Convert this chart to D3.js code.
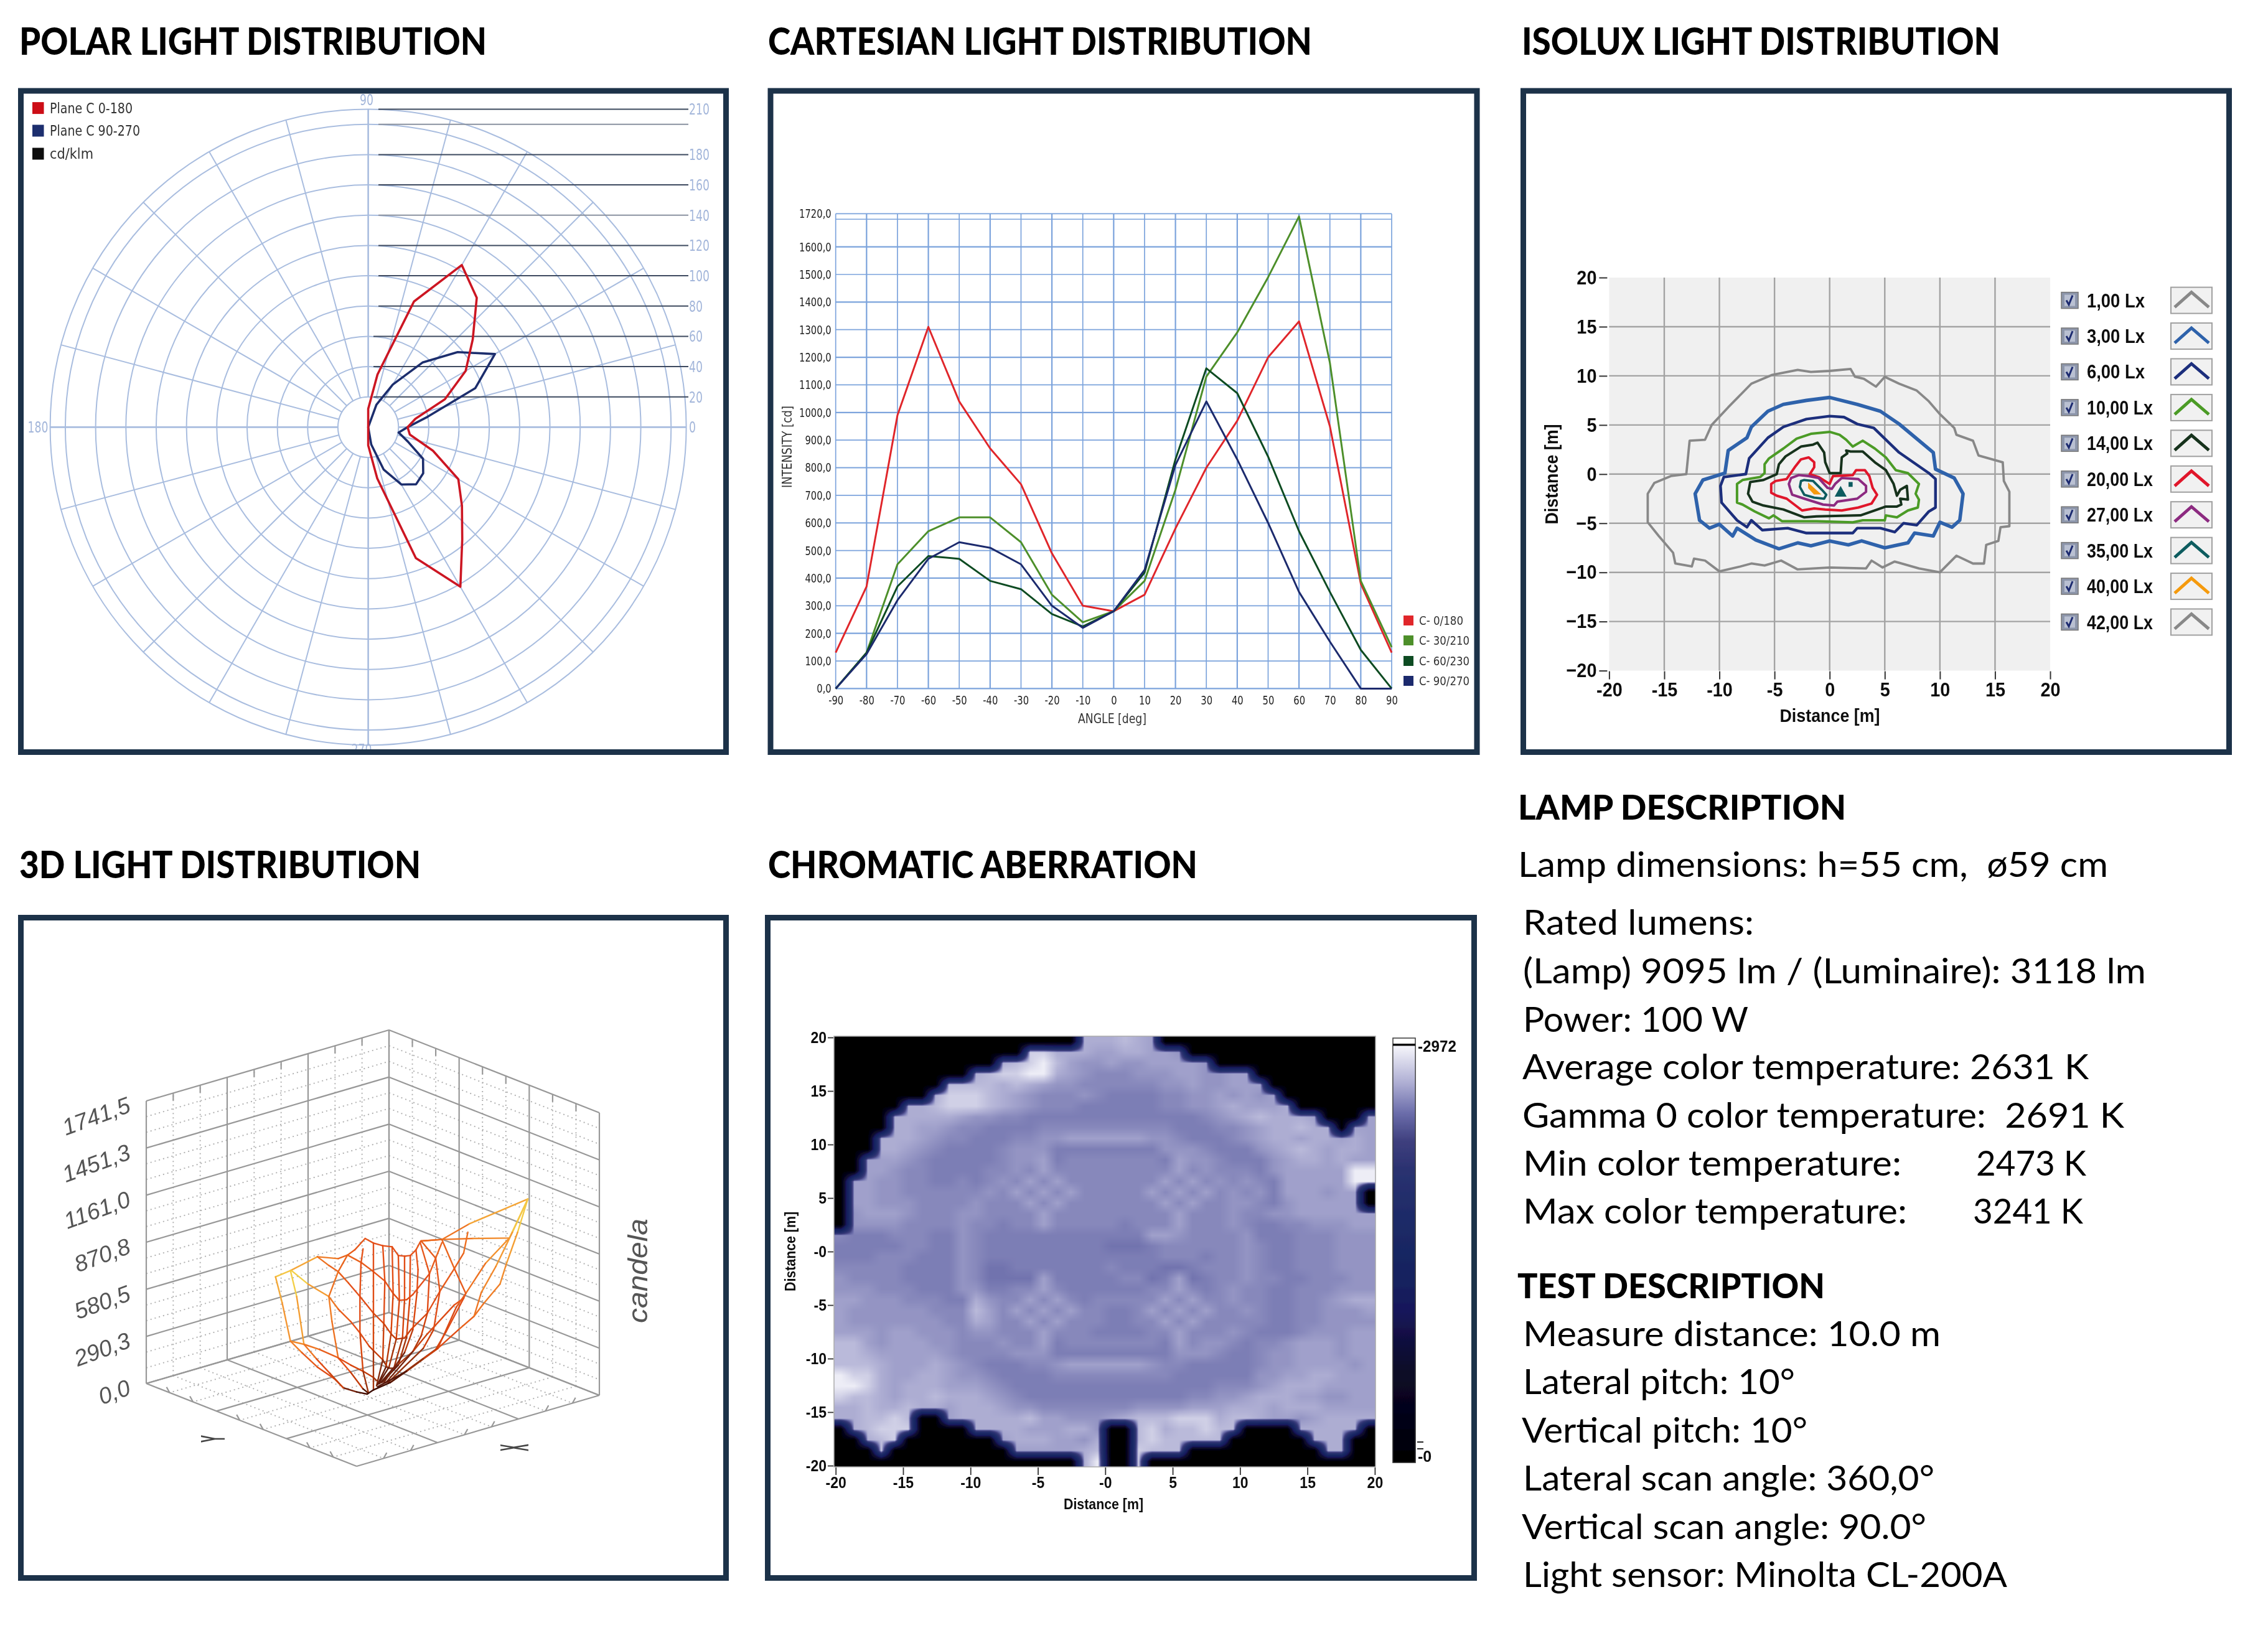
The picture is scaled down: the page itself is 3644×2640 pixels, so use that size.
<!DOCTYPE html>
<html><head><meta charset="utf-8">
<script src="https://cdn.jsdelivr.net/npm/d3@7/dist/d3.min.js"></script>
<style>html,body{margin:0;padding:0;background:#fff}svg{display:block}</style>
</head><body>
<svg id="c" width="3644" height="2640" xmlns="http://www.w3.org/2000/svg"></svg>
<script>
// ---------- DATA ----------
const angles=[-90,-80,-70,-60,-50,-40,-30,-20,-10,0,10,20,30,40,50,60,70,80,90];
const c0_180=[130,370,990,1310,1040,870,740,490,300,280,340,580,800,970,1200,1330,950,380,130];
const c30_210=[0,130,450,570,620,620,530,340,240,280,390,720,1130,1290,1490,1710,1180,390,150];
const c60_230=[0,130,370,480,470,390,360,270,225,280,420,830,1160,1070,840,570,350,140,0];
const c90_270=[0,125,320,470,530,510,450,300,220,280,430,810,1040,830,600,350,170,0,0];
const polarC0=[12,34.4,92,121.7,96.6,80.8,68.7,45.5,27.9,26,31.6,53.9,74.3,90.1,111.5,123.6,88.3,35.3,12.1];
const polarC90=[0,11.6,29.7,43.7,49.2,47.4,41.8,27.9,20.4,26,39.9,75.2,96.6,77.1,55.7,32.5,15.8,0,0];
const polarRings=[20,40,60,80,100,120,140,160,180,200,210];
const polarSpokes=d3.range(0,360,15);
const polarGuides=[20,40,60,80,100,120,140,160,180,200,210];
const polarGuideLabels=[0,20,40,60,80,100,120,140,160,180,210];
const polarLegend=["Plane C 0-180","Plane C 90-270","cd/klm"];
const cartYTicks=[0,100,200,300,400,500,600,700,800,900,1000,1100,1200,1300,1400,1500,1600,1720];
const cartYGrid=[0,100,200,300,400,500,600,700,800,900,1000,1100,1200,1300,1400,1500,1600,1700,1720];
const cartLegend=["C- 0/180","C- 30/210","C- 60/230","C- 90/270"];
const isoTicks=[-20,-15,-10,-5,0,5,10,15,20];
const isoLabels=["1,00 Lx","3,00 Lx","6,00 Lx","10,00 Lx","14,00 Lx","20,00 Lx","27,00 Lx","35,00 Lx","40,00 Lx","42,00 Lx"];
const iso1=[[0,10.5],[1.9,10.7],[2.3,9.9],[3.1,9.7],[4.2,8.9],[5,9.9],[6.3,9.2],[7.9,8.5],[9,7.4],[10,6.1],[11.3,4.7],[11.5,4],[13,3.4],[13.5,1.9],[15.7,1.2],[15.8,-.7],[16.3,-1.8],[16.3,-5.3],[15.5,-5.4],[15.3,-6.8],[14.2,-7.2],[14,-9.1],[13,-9.1],[11.5,-8.3],[10,-10],[8.1,-9.6],[5.9,-8.9],[4.8,-9.5],[3.8,-8.8],[3.3,-9.6],[0,-9.5],[-2.9,-9.7],[-4.4,-8.8],[-5.9,-9.3],[-7.1,-9.1],[-8.1,-9.4],[-10,-9.9],[-11.3,-8.8],[-12.3,-8.6],[-12.5,-9.4],[-14,-9.1],[-14.2,-8],[-15.5,-6.3],[-16.5,-4.9],[-16.5,-2],[-15.9,-.9],[-14.4,-.2],[-13,0],[-12.7,3.4],[-11.3,3.5],[-10.7,5],[-9.2,6.8],[-7.1,9.2],[-5.2,10.1],[-2.9,10.6],[-1.7,10.4]];
const iso3=[[0,7.8],[-2.1,7.5],[-4.2,7.1],[-5.6,6.4],[-7.1,4.8],[-7.5,3.7],[-9.2,2.4],[-9.5,.1],[-11.5,-.6],[-12.2,-2],[-11.8,-4.7],[-10.9,-5.5],[-10,-5.1],[-8.8,-6.3],[-8.4,-5.5],[-6.7,-6.7],[-4.6,-7.6],[-2.9,-7],[-1.7,-7.3],[0,-6.8],[1.7,-7.2],[2.9,-6.8],[5,-7.5],[7.1,-7],[7.7,-6],[9.4,-6.3],[10,-4.9],[11.1,-5.4],[11.8,-4.7],[12.1,-2],[11.3,-.4],[9.6,.5],[9.4,2.2],[6.3,5.1],[4.6,6.4],[2.5,7.1]];
const iso6=[[0,5.9],[-2.1,5.6],[-4.2,4.8],[-5.6,3.7],[-7.3,1.6],[-7.6,0],[-9.6,-.3],[-9.9,-1.2],[-9.8,-2.9],[-8.4,-4.7],[-7.5,-5.4],[-7.1,-4.7],[-6.1,-5.7],[-3.8,-5.5],[-2.1,-6],[2.1,-6],[2.5,-5.5],[4.6,-5.5],[5.9,-5.9],[6.7,-5],[7.9,-5.2],[9,-3.8],[9.6,-3.4],[9.6,-.5],[9,.1],[6.3,2.2],[4,4.7],[2.5,5.1],[1.3,5.8]];
const iso10=[[0,4.3],[.9,4],[1.5,3.5],[2.1,2.8],[3,3.4],[4.1,2.6],[5.1,1.7],[6,.4],[7.1,.1],[8.1,-1],[7.8,-2],[8.1,-2.6],[8,-3.4],[7.1,-3.7],[6.1,-4.4],[5.1,-4.2],[5,-4.7],[3,-4.7],[2.1,-4.9],[-1.2,-4.8],[-2.1,-4.8],[-4.3,-4.8],[-5.1,-4.2],[-5.5,-4.5],[-6.8,-3.8],[-7.9,-3.1],[-8.4,-2.9],[-8.4,-1],[-7.9,-.6],[-6.3,-.3],[-5.9,.1],[-5.9,1],[-5.5,1.6],[-4.2,2.6],[-3,3.6],[-1.7,4.1]];
const iso14=[[-1.1,3.2],[-.5,2.2],[-.4,1.2],[0,.1],[1,.1],[1.1,1.7],[1.6,2.1],[1.5,2.4],[1.9,2.3],[3,2.3],[4.1,1.2],[5.1,.4],[5.8,-1],[6.1,-2.2],[6.4,-1.6],[7,-1.2],[7.1,-2.6],[6.4,-2.5],[6.5,-3.1],[6.1,-3.3],[5.1,-3.3],[4.1,-3.7],[2.8,-4.2],[-1.2,-4.3],[-2.3,-4.4],[-4.2,-3.6],[-6,-3.2],[-7,-2.8],[-7.4,-2],[-7.2,-.8],[-6,-.6],[-4.8,0],[-4.6,1],[-4,1.8],[-2.6,2.8],[-1.5,3]];
const iso20=[[-1.9,1.7],[-1.4,1.2],[-1.4,.7],[-1.8,0],[-1,-.3],[0,-1],[.3,-.2],[2.1,-.1],[2.4,.4],[3.2,.4],[3.6,-.2],[3.9,-1.4],[4.3,-2.1],[3.8,-3],[2.6,-3.4],[1.1,-3.7],[-.4,-3.6],[-1.4,-3.5],[-2.5,-3.7],[-3.9,-2.5],[-4.8,-2.2],[-5.3,-1.9],[-5.3,-1],[-4.9,-.7],[-3.9,-.5],[-3.1,.8],[-2.6,1.5]];
const iso27=[[-2.8,-.1],[-1.9,-.2],[-1,-.4],[-.2,-1.4],[.2,-1.5],[.5,-1],[1.1,-.4],[2.6,-.5],[3.3,-1.2],[3.3,-1.8],[2.5,-2.5],[.7,-2.8],[.4,-3.2],[-.6,-3.1],[-2.3,-2.5],[-3.4,-2.1],[-3.6,-1.4],[-3.7,-1],[-3.5,-.4]];
const iso35=[[-2.3,-.6],[-1.5,-.7],[-.7,-1.6],[-.3,-2.1],[-.5,-2.5],[-1.4,-2.4],[-2.3,-2.1],[-2.7,-1.3],[-2.6,-.7]];
const iso35b=[[1,-1.4],[1.4,-2.2],[.6,-2.2]];
const iso35c=[[1.8,-.9],[2,-.9],[2,-1.2],[1.8,-1.2]];
const iso40=[[-1.9,-1],[-.9,-2],[-1.4,-2],[-1.9,-1.4]];
const zTicks=[0,290.25,580.5,870.75,1161,1451.25,1741.5];
const zTickLabels=["0,0","290,3","580,5","870,8","1161,0","1451,3","1741,5"];
// wireframe polylines: [view x, view y, candela]
const wires=[
[[68,215,1500],[140,185,1620],[270,118,1150],[370,127,800],[415,110,800],[450,85,720],[500,30,700],[540,52,650],[585,65,650],[630,70,650],[660,112,650],[690,115,650],[718,112,650],[745,85,700],[765,48,720],[770,42,750],[870,35,850],[1001,-40,1000],[1284,-160,1741]],
[[770,42,800],[870,35,850],[1020,30,1000],[1195,28,1250]],
[[270,118,1000],[325,160,800],[370,190,800],[420,245,700],[475,310,600],[540,390,500],[590,440,420],[625,490,300],[650,515,220],[690,510,220],[720,470,300],[800,390,500],[860,285,700],[930,175,750],[975,100,800],[995,0,950]],
[[415,110,800],[480,145,750],[540,190,700],[595,235,650],[635,295,600],[665,328,550],[700,325,550],[730,300,600],[810,200,700],[840,125,750],[870,50,800]],
[[140,525,1150],[205,540,1050],[280,565,800],[370,605,700],[430,640,500],[490,670,300],[540,700,150],[555,715,100]],
[[145,185,1741],[225,250,1500],[325,310,1100],[370,370,800],[430,430,700],[475,485,600],[520,550,400],[585,615,150],[610,655,100],[640,655,100],[730,575,200],[800,490,400],[930,350,650],[975,318,700]],
[[68,215,1500],[100,340,1300],[140,525,1150],[195,580,800],[270,650,650],[350,705,500],[395,750,100],[460,770,30],[510,780,0]],
[[140,185,1741],[170,310,1500],[205,540,1150],[265,610,700],[330,680,500],[395,750,100]],
[[415,110,800],[370,190,800],[325,310,1000],[340,430,1000],[370,605,800],[430,675,450],[490,755,40],[515,775,0]],
[[490,80,700],[480,150,650],[475,310,620],[475,485,550],[490,670,250],[515,770,0]],
[[540,52,650],[540,190,630],[540,390,520],[540,570,300],[540,760,0]],
[[585,65,650],[595,235,620],[590,440,450],[585,615,150],[555,740,20]],
[[630,70,650],[635,295,600],[625,490,300],[600,650,90],[560,735,10]],
[[660,112,650],[665,328,550],[650,515,220],[615,650,80],[565,730,10]],
[[690,115,650],[690,325,550],[680,510,220],[640,650,80],[570,730,10]],
[[718,112,650],[715,325,550],[700,505,220],[660,640,80],[580,725,10]],
[[745,85,700],[755,180,650],[750,290,600],[730,470,300],[690,580,120],[590,725,10]],
[[765,48,720],[800,165,700],[810,200,680],[800,390,450],[770,500,250],[730,575,120],[600,725,10]],
[[770,42,750],[840,125,720],[860,285,700],[830,470,450],[780,560,200],[610,725,10]],
[[870,35,850],[930,175,750],[985,295,700],[975,318,680],[890,480,450],[840,565,250],[620,725,10]],
[[1284,-160,1741],[1195,28,1350],[1080,150,1000],[985,295,800],[940,360,650],[850,560,300],[700,670,60],[560,745,5]],
[[1284,-160,1741],[1235,0,1450],[1180,155,1200],[1150,250,1050],[1070,345,950],[1025,405,850],[950,470,700],[850,560,450],[780,610,150],[700,670,50],[620,725,10],[540,760,0]],
[[1284,-160,1741],[1210,0,1400],[1130,165,1150],[1060,290,1000],[1025,405,850]],
[[510,780,0],[540,760,0]]
];
// chromatic map, row y=20 first; digit = level, dot = no light (groups of ten cells)
const chromaLevels=[2470,2510,2545,2580,2620,2660,2700,2750,2830,2940];
const chromaRows=[
".......... ........66 6765...... ..........",
".......... ....886665 566554.... ..........",
".......... ..67897544 54455554.. ..........",
".......... 6788996543 3344455445 5.........",
"........77 7767654433 3333445445 55........",
".......688 8765433343 2222334454 545.......",
".....66788 8765433322 2222334456 5556......",
"....666665 4433222222 2222222345 676665...5",
"....665543 3222233333 3333322233 4566766.55",
"...6665433 2223344555 5554432223 4566566565",
"...6654322 2234442222 2222444322 2456765665",
"..55543222 2234452333 3333254432 2245665655",
"..55433222 2334353333 3333353433 3245555599",
".554433223 2343535333 3333535343 4325555599",
".554433333 3435353533 3335353534 342555455.",
".554443333 4333535333 3333535334 432455555.",
".455543334 4333353333 3333353334 3344555555",
".444433334 3323353333 3233353334 3223344455",
"3222333224 3222222222 2225543333 4222333444",
"2222233224 3222222222 1112333333 4322333444",
"2223332224 3222222222 2222333233 4322333444",
"3333322224 3112222222 3222112333 4322333444",
"4333322224 3111152222 2331251233 4332233344",
"4443332224 4223353222 2223353234 3322333444",
"5544433322 6433535323 3333535334 3322334566",
"5444444333 7535353533 2235353533 4322334445",
"5444444433 6533535333 2233535333 3322334444",
"5554554443 4433353332 2223353334 3222344455",
"7754555443 3343352333 3333253443 2334555455",
"7765555543 3334442222 2222244432 2344555455",
"7776555654 3222334555 5554332222 2344555545",
"9886556654 4322223333 3333322222 2445566555",
"9986566655 5432222222 2222222233 3456665555",
"8776566766 6543222222 2222223344 5666554455",
"6676676656 6654433333 3344445556 6656665555",
"667787..56 6666755444 5677788867 7655456666",
".67888.... 6666555664 ..78677877 ....66666.",
"..678..... ..56665546 ..7877777. .....666..",
"...8...... ...5555567 ..8777.... ......66..",
".......... ........69 ..8....... .........."
];
const chromaStopValues=[0,50,356,654,862,1070,1272,1679,2083,2290,2494,2698,2972];
const chromaStopColors=["#000000","#000004","#05051a","#0a0828","#110e3e","#14165a","#16215e","#1b2a66","#2a3170","#3e3f7e","#6c6eab","#acacd2","#f6f6fb"];
const chromaTicksX=["-20","-15","-10","-5","-0","5","10","15","20"];
const chromaTicksY=["-20","-15","-10","-5","-0","5","10","15","20"];
const titles=["POLAR LIGHT DISTRIBUTION","CARTESIAN LIGHT DISTRIBUTION","ISOLUX LIGHT DISTRIBUTION","3D LIGHT DISTRIBUTION","CHROMATIC ABERRATION","LAMP DESCRIPTION","TEST DESCRIPTION"];
const lampLines=["Lamp dimensions: h=55 cm,  ø59 cm","Rated lumens:","(Lamp) 9095 lm / (Luminaire): 3118 lm","Power: 100 W","Average color temperature: 2631 K","Gamma 0 color temperature:  2691 K","Min color temperature:","2473 K","Max color temperature:","3241 K"];
const testLines=["Measure distance: 10.0 m","Lateral pitch: 10°","Vertical pitch: 10°","Lateral scan angle: 360,0°","Vertical scan angle: 90.0°","Light sensor: Minolta CL-200A"];

// ---------- LAYOUT ----------
const svg=d3.select("#c");
const defs=svg.append("defs");
defs.append("filter").attr("id","soft")
  .attr("filterUnits","userSpaceOnUse").attr("x",0).attr("y",0).attr("width",3644).attr("height",2640)
  .append("feGaussianBlur").attr("stdDeviation",0.75);
const root=svg.append("g").attr("filter","url(#soft)");
root.append("rect").attr("width",3644).attr("height",2640).attr("fill","#fff");
const NARROW="'DejaVu Sans Condensed','Liberation Sans',sans-serif";
const SANS="'Liberation Sans',Arial,sans-serif";
const LATO="Lato,'Open Sans',sans-serif";
function txt(g,x,y,s,o={}){
  const t=g.append("text").attr("x",x).attr("y",y).text(s)
    .attr("font-family",o.font||SANS).attr("font-size",o.size||20)
    .attr("font-weight",o.weight||"normal").attr("font-style",o.italic?"italic":"normal")
    .attr("text-anchor",o.anchor||"start").attr("fill",o.fill||"#000")
    .attr("xml:space","preserve").style("white-space","pre");
  if(o.width){t.attr("textLength",o.width).attr("lengthAdjust","spacingAndGlyphs");}
  if(o.squeeze){t.attr("textLength",t.node().getComputedTextLength()*o.squeeze).attr("lengthAdjust","spacingAndGlyphs");}
  if(o.transform)t.attr("transform",o.transform);
  return t;
}
function squeeze(sel,f){sel.each(function(){d3.select(this).attr("textLength",this.getComputedTextLength()*f).attr("lengthAdjust","spacingAndGlyphs");});}
// titles
const titleBoxes=[[31,782,88],[1234,2108,88],[2445,3214,88],[31,676,1411],[1234,1924,1411],[2439,2966,1317],[2438,2932,2086]];
titles.forEach((s,i)=>{const b=titleBoxes[i];
  txt(root,b[0],b[2],s,{font:LATO,weight:900,size:i>4?55:61,width:b[1]-b[0]});});
// description text
const lampBoxes=[[2439,3387,1409],[2447,2818,1502],[2447,3448,1580],[2447,2809,1658],[2446,3356,1734],[2446,3413,1812],[2447,3055,1889],[3175,3352,1889],[2447,3064,1966],[3170,3347,1966]];
lampLines.forEach((s,i)=>{const b=lampBoxes[i];txt(root,b[0],b[2],s,{font:LATO,size:57,width:b[1]-b[0]});});
const testBoxes=[[2447,3118,2163],[2447,2884,2240],[2445,2904,2318],[2447,3108,2395],[2445,3095,2473],[2447,3225,2550]];
testLines.forEach((s,i)=>{const b=testBoxes[i];txt(root,b[0],b[2],s,{font:LATO,size:57,width:b[1]-b[0]});});

// ---------- POLAR ----------
(function(){
  const g=root.append("g");
  const cx=591.6,cy=686.4;
  const r=d3.scaleLinear().domain([0,210]).range([0,511]);
  const blue="#a9bddf";
  g.selectAll(".ring").data(polarRings).join("circle").attr("cx",cx).attr("cy",cy).attr("r",d=>r(d))
    .attr("fill","none").attr("stroke",blue).attr("stroke-width",2);
  g.selectAll(".spk").data(polarSpokes).join("line")
    .attr("x1",d=>cx+r(20)*Math.cos(d*Math.PI/180)).attr("y1",d=>cy-r(20)*Math.sin(d*Math.PI/180))
    .attr("x2",d=>cx+r(210)*Math.cos(d*Math.PI/180)).attr("y2",d=>cy-r(210)*Math.sin(d*Math.PI/180))
    .attr("stroke",blue).attr("stroke-width",d=>d%90===0?2.6:2);
  g.selectAll(".gd").data(polarGuides).join("line")
    .attr("x1",d=>d<=60?600:608).attr("x2",1106).attr("y1",d=>cy-r(d)).attr("y2",d=>cy-r(d))
    .attr("stroke",d=>(d===140||d===200)?"#8a92a0":"#3d4a5e").attr("stroke-width",2);
  const lab="#a3b6da";
  polarGuideLabels.forEach(v=>txt(g,1107,cy-r(v)+9,v,{font:NARROW,size:24,fill:lab,squeeze:.8}));
  txt(g,589,169,"90",{font:NARROW,size:24,fill:lab,anchor:"middle",squeeze:.8});
  txt(g,61,695,"180",{font:NARROW,size:24,fill:lab,anchor:"middle",squeeze:.8});
  txt(g,581,1213,"270",{font:NARROW,size:24,fill:lab,anchor:"middle",squeeze:.8});
  const line=d3.lineRadial().angle(d=>(90-d[0])*Math.PI/180).radius(d=>r(d[1])).curve(d3.curveLinearClosed);
  [[polarC90,"#1e2d6d"],[polarC0,"#cc1422"]].forEach(([vals,col])=>{
    g.append("path").attr("transform",`translate(${cx},${cy})`)
     .attr("d",line(angles.map((a,i)=>[a,vals[i]]))).attr("fill","none")
     .attr("stroke",col).attr("stroke-width",3.6).attr("stroke-linejoin","round");
  });
  const cols=["#cc0e14","#1a2e6e","#0a0a0a"],ys=[173.6,210,247],ws=[133,145,70];
  polarLegend.forEach((s,i)=>{
    g.append("rect").attr("x",52).attr("y",ys[i]-9.5).attr("width",18.5).attr("height",19).attr("fill",cols[i]);
    txt(g,80,ys[i]+8,s,{font:NARROW,size:23,fill:"#333",width:ws[i]});
  });
})();

// ---------- CARTESIAN ----------
(function(){
  const g=root.append("g");
  const x=d3.scaleLinear().domain([-90,90]).range([1342.7,2236]);
  const y=d3.scaleLinear().domain([0,1720]).range([1106.4,343.4]);
  const grid="#7ba3dc";
  g.selectAll(".v").data(angles).join("line").attr("x1",d=>x(d)).attr("x2",d=>x(d)).attr("y1",y(0)).attr("y2",y(1720))
    .attr("stroke",grid).attr("stroke-width",(d)=>d%20===0?2.2:1.7);
  g.selectAll(".h").data(cartYGrid).join("line").attr("x1",x(-90)).attr("x2",x(90)).attr("y1",d=>y(d)).attr("y2",d=>y(d))
    .attr("stroke",grid).attr("stroke-width",(d)=>d%200===0?2.2:1.7);
  const ax=g.append("g").attr("transform",`translate(0,${y(0)})`)
    .call(d3.axisBottom(x).tickValues(angles).tickSize(0).tickPadding(11).tickFormat(d=>d));
  ax.select(".domain").remove();
  ax.selectAll("text").attr("font-family",NARROW).attr("font-size",20).attr("fill","#222").call(squeeze,.82);
  const ay=g.append("g").attr("transform",`translate(${x(-90)},0)`)
    .call(d3.axisLeft(y).tickValues(cartYTicks).tickSize(0).tickPadding(7).tickFormat(d=>d.toFixed(1).replace(".",",")));
  ay.select(".domain").remove();
  ay.selectAll("text").attr("font-family",NARROW).attr("font-size",20).attr("fill","#222").call(squeeze,.82);
  txt(g,1787,1162,"ANGLE [deg]",{font:NARROW,size:21,fill:"#333",anchor:"middle",width:110});
  txt(g,0,0,"INTENSITY [cd]",{font:NARROW,size:21,fill:"#333",anchor:"middle",width:132,transform:"translate(1272,718) rotate(-90)"});
  const cols=["#e0262c","#4e8f2b","#0e4b20","#1c2b6d"];
  const line=d3.line().x((d,i)=>x(angles[i])).y(d=>y(d));
  [c0_180,c30_210,c60_230,c90_270].forEach((s,i)=>{
    g.append("path").attr("d",line(s)).attr("fill","none").attr("stroke",cols[i]).attr("stroke-width",3).attr("stroke-linejoin","round");
  });
  const ly=[997,1029,1062,1094];
  cartLegend.forEach((s,i)=>{
    g.append("rect").attr("x",2255).attr("y",ly[i]-8).attr("width",16).attr("height",16).attr("fill",cols[i]);
    txt(g,2280,ly[i]+7,s,{font:NARROW,size:20,fill:"#333",width:i===0?71:81});
  });
})();

// ---------- ISOLUX ----------
(function(){
  const g=root.append("g");
  const x=d3.scaleLinear().domain([-20,20]).range([2585.4,3294]);
  const y=d3.scaleLinear().domain([-20,20]).range([1077.6,446]);
  g.append("rect").attr("x",x(-20)).attr("y",y(20)).attr("width",x(20)-x(-20)).attr("height",y(-20)-y(20)).attr("fill","#f0f0f0");
  const inner=isoTicks.slice(1,-1);
  g.selectAll(".iv").data(inner).join("line").attr("x1",d=>x(d)).attr("x2",d=>x(d)).attr("y1",y(-20)).attr("y2",y(20)).attr("stroke","#a3a3a3").attr("stroke-width",2.4);
  g.selectAll(".ih").data(inner).join("line").attr("x1",x(-20)).attr("x2",x(20)).attr("y1",d=>y(d)).attr("y2",d=>y(d)).attr("stroke","#a3a3a3").attr("stroke-width",2.4);
  const style=a=>{a.select(".domain").remove();a.selectAll("line").attr("stroke","#333").attr("stroke-width",2);
    a.selectAll("text").attr("font-family",SANS).attr("font-weight","bold").attr("font-size",32).attr("fill","#111").call(squeeze,.9);};
  g.append("g").attr("transform",`translate(${x(-20)-3},0)`).call(d3.axisLeft(y).tickValues(isoTicks).tickSize(13).tickPadding(4)).call(style);
  g.append("g").attr("transform",`translate(0,${y(-20)+1})`).call(d3.axisBottom(x).tickValues(isoTicks).tickSize(13).tickPadding(5).tickFormat(d=>d)).call(style);
  txt(g,2940,1160,"Distance [m]",{weight:"bold",size:29,anchor:"middle",fill:"#111",width:161});
  txt(g,0,0,"Distance [m]",{weight:"bold",size:29,anchor:"middle",fill:"#111",width:161,transform:"translate(2503,762) rotate(-90)"});
  const cols=["#888888","#2e62ab","#1b2f7c","#4b9b25","#16301a","#e0162b","#8c2a80","#0e5c5e","#f59a0b","#888888"];
  const widths=[3.8,5.6,4.4,4,4,4,4,3.8,3,3];
  const line=d3.line().x(d=>x(d[0])).y(d=>y(d[1])).curve(d3.curveLinearClosed);
  const contours=[iso1,iso3,iso6,iso10,iso14,iso20,iso27,iso35];
  contours.forEach((c,i)=>g.append("path").attr("d",line(c)).attr("fill","none").attr("stroke",cols[i]).attr("stroke-width",widths[i]).attr("stroke-linejoin","round"));
  g.append("path").attr("d",line(iso35b)).attr("fill",cols[7]).attr("stroke",cols[7]).attr("stroke-width",3);
  g.append("path").attr("d",line(iso35c)).attr("fill",cols[7]).attr("stroke",cols[7]).attr("stroke-width",3);
  g.append("path").attr("d",line(iso40)).attr("fill",cols[8]).attr("stroke",cols[8]).attr("stroke-width",2);
  const ly=d3.scaleLinear().domain([0,9]).range([482.6,999.5]);
  const ws=[93,93,93,106,106,106,106,106,106,106];
  isoLabels.forEach((s,i)=>{
    const c=ly(i);
    g.append("rect").attr("x",3312).attr("y",c-13).attr("width",27).attr("height",26).attr("fill","#8d96ab").attr("stroke","#777").attr("stroke-width",1.5);
    g.append("rect").attr("x",3317).attr("y",c-9).attr("width",17).attr("height",18).attr("fill","#b9c0d2");
    g.append("path").attr("d",`M${3320},${c} l4,7 l6,-15`).attr("fill","none").attr("stroke","#1d2c70").attr("stroke-width",3);
    txt(g,3353,c+11,s,{weight:"bold",size:31,fill:"#111",width:ws[i]});
    g.append("rect").attr("x",3488).attr("y",c-21).attr("width",66).attr("height",42).attr("fill","#f1f1f1").attr("stroke","#a0a0a0").attr("stroke-width",2);
    g.append("path").attr("d",`M${3494},${c+11} L${3521},${c-13} L${3549},${c+11}`).attr("fill","none").attr("stroke",cols[i]).attr("stroke-width",5);
  });
})();

// ---------- 3D ----------
(function(){
  const g=root.append("g");
  const zY=d3.scaleLinear().domain([0,1741.5]).range([0,-454]);
  const px=d3.scaleLinear().domain([0,1]).range([0,-390]), pyU=d3.scaleLinear().domain([0,1]).range([0,114]);
  const qx=d3.scaleLinear().domain([0,1]).range([0,338]), pyV=d3.scaleLinear().domain([0,1]).range([0,133]);
  const P=(u,v,z)=>[625+px(u)+qx(v),2109+pyU(u)+pyV(v)+zY(z)];
  const zMax=1741.5;
  const ln=(a,b,major)=>g.append("line").attr("x1",a[0]).attr("y1",a[1]).attr("x2",b[0]).attr("y2",b[1])
     .attr("stroke",major?"#989898":"#b0b0b0").attr("stroke-width",major?2.2:1.9).attr("stroke-dasharray",major?null:"2 5");
  const ninth=d3.range(0,10).map(i=>i/9);
  ninth.forEach((t,i)=>{ if(i%3===0)return;
    ln(P(t,0,0),P(t,1,0));ln(P(0,t,0),P(1,t,0));
    ln(P(t,0,0),P(t,0,zMax));ln(P(0,t,0),P(0,t,zMax));
  });
  d3.range(0,18).forEach(k=>{const z=k*zMax/18; if(k%3===0)return; ln(P(1,0,z),P(0,0,z));ln(P(0,0,z),P(0,1,z));});
  ninth.forEach((t,i)=>{ if(i%3!==0)return;
    ln(P(t,0,0),P(t,1,0),1);ln(P(0,t,0),P(1,t,0),1);
    ln(P(t,0,0),P(t,0,zMax),1);ln(P(0,t,0),P(0,t,zMax),1);
  });
  zTicks.forEach(z=>{ln(P(1,0,z),P(0,0,z),1);ln(P(0,0,z),P(0,1,z),1);});
  ninth.forEach((t,i)=>{ if(i%3===0)return;
    [[P(t,0,zMax)],[P(0,t,zMax)]].forEach(([a])=>ln(a,[a[0],a[1]+12],1));
    let a=P(t,1,0);ln(a,[a[0]+5,a[1]-9],1);a=P(1,t,0);ln(a,[a[0]-5,a[1]-9],1);
  });
  zTicks.forEach((z,i)=>{
    const a=P(1,0,z);
    txt(g,0,0,zTickLabels[i],{size:37,italic:true,anchor:"end",fill:"#555",transform:`translate(212,${a[1]+17}) rotate(-20)`});
  });
  txt(g,0,0,"candela",{size:45,italic:true,anchor:"middle",fill:"#555",width:168,transform:"translate(1040,2042) rotate(-90)"});
  txt(g,0,0,"Y",{size:20,weight:"bold",anchor:"middle",fill:"#444",transform:"translate(361,2312) rotate(-90) scale(.9,2.8)"});
  txt(g,0,0,"X",{size:20,weight:"bold",anchor:"middle",fill:"#444",transform:"translate(849,2326) rotate(-90) scale(.85,3.2)"});
  const vx=d3.scaleLinear().domain([0,1380]).range([420,880]);
  const vy=d3.scaleLinear().domain([0,900]).range([1980,2280]);
  const col=d3.scaleLinear().domain([0,40,100,220,420,650,850,1100,1350,1550,1741])
    .range(["#3a0a00","#5e1a08","#92300c","#c03c0a","#d84610","#e4501a","#ec6c20","#f28a2c","#f4a034","#f4c444","#f2e24c"]).clamp(true);
  wires.forEach(w=>d3.pairs(w).forEach(([a,b])=>{
    g.append("path").attr("d",d3.line().x(d=>vx(d[0])).y(d=>vy(d[1]))([a,b]))
      .attr("stroke",col((a[2]+b[2])/2)).attr("stroke-width",2.4).attr("fill","none").attr("stroke-linecap","round");
  }));
})();

// ---------- CHROMATIC ----------
(function(){
  const g=root.append("g");
  const x=d3.scaleLinear().domain([-20,20]).range([1342.7,2208.9]);
  const y=d3.scaleLinear().domain([-20,20]).range([2355,1667]);
  const color=d3.scaleLinear().domain(chromaStopValues).range(chromaStopColors).clamp(true);
  const lut=d3.range(0,2973).map(v=>d3.rgb(color(v)));
  const grid=chromaRows.map(r=>Array.from(r.replace(/ /g,"").padEnd(40,".").slice(0,40)).map(c=>c==="."?0:chromaLevels[+c]));
  const X0=1340,Y0=1665,W=870,H=692;
  const cv=document.createElement("canvas");cv.width=W;cv.height=H;
  const ctx=cv.getContext("2d"),im=ctx.createImageData(W,H);
  const clampI=(a,n)=>Math.max(0,Math.min(n-1,a));
  for(let j=0;j<H;j++){
    const fy=(j+.5)/H*40-.5,j0=Math.floor(fy),ty=fy-j0;
    for(let i=0;i<W;i++){
      const fx=(i+.5)/W*40-.5,i0=Math.floor(fx),tx=fx-i0;
      const a=grid[clampI(j0,40)][clampI(i0,40)],b=grid[clampI(j0,40)][clampI(i0+1,40)],
            c=grid[clampI(j0+1,40)][clampI(i0,40)],d=grid[clampI(j0+1,40)][clampI(i0+1,40)];
      const v=(a*(1-tx)+b*tx)*(1-ty)+(c*(1-tx)+d*tx)*ty;
      const col=lut[Math.round(v)],k=(j*W+i)*4;
      im.data[k]=col.r;im.data[k+1]=col.g;im.data[k+2]=col.b;im.data[k+3]=255;
    }
  }
  ctx.putImageData(im,0,0);
  g.append("image").attr("x",X0).attr("y",Y0).attr("width",W).attr("height",H).attr("href",cv.toDataURL());
  g.append("rect").attr("x",X0).attr("y",Y0).attr("width",W).attr("height",H).attr("fill","none").attr("stroke","#aaa").attr("stroke-width",1.5);
  const style=a=>{a.select(".domain").remove();a.selectAll("line").attr("stroke","#333").attr("stroke-width",1.8);
    a.selectAll("text").attr("font-family",SANS).attr("font-weight","bold").attr("font-size",25).attr("fill","#111").call(squeeze,.92);};
  const vals=[-20,-15,-10,-5,0,5,10,15,20];
  g.append("g").attr("transform",`translate(${X0-1},0)`).call(d3.axisLeft(y).tickValues(vals).tickSize(9).tickPadding(2).tickFormat((d,i)=>chromaTicksY[i])).call(style);
  g.append("g").attr("transform",`translate(0,${Y0+H+1})`).call(d3.axisBottom(x).tickValues(vals).tickSize(12).tickPadding(3).tickFormat((d,i)=>chromaTicksX[i])).call(style);
  txt(g,1773,2425,"Distance [m]",{weight:"bold",size:24,anchor:"middle",fill:"#111",width:128});
  txt(g,0,0,"Distance [m]",{weight:"bold",size:24,anchor:"middle",fill:"#111",width:128,transform:"translate(1278,2011) rotate(-90)"});
  const by=d3.scaleLinear().domain([0,2972]).range([2350,1680]);
  const gr=defs.append("linearGradient").attr("id","bar").attr("x1",0).attr("x2",0).attr("y1",1).attr("y2",0);
  chromaStopValues.forEach((v,i)=>gr.append("stop").attr("offset",v/2972).attr("stop-color",chromaStopColors[i]));
  g.append("rect").attr("x",2238).attr("y",1668).attr("width",36).attr("height",682).attr("fill","#fff").attr("stroke","#444").attr("stroke-width",1.6);
  g.append("rect").attr("x",2238).attr("y",by(2972)).attr("width",36).attr("height",by(0)-by(2972)).attr("fill","url(#bar)").attr("stroke","#444").attr("stroke-width",1.2);
  g.append("rect").attr("x",2238).attr("y",1677).attr("width",36).attr("height",3).attr("fill","#000");
  txt(g,2278,1690,"-2972",{weight:"bold",size:25,fill:"#111",width:62});
  txt(g,2278,2349,"-0",{weight:"bold",size:25,fill:"#111"});
  [by(146),by(98)].forEach(t=>g.append("line").attr("x1",2277).attr("x2",2287).attr("y1",t).attr("y2",t).attr("stroke","#222").attr("stroke-width",2));
})();

// ---------- FRAMES ----------
const frames=[[33.5,146,1133,1062.5],[1238,146,1135,1062.5],[2447.5,146,1134,1062.5],[33.5,1474.5,1133,1061],[1233.5,1474.5,1135,1061]];
root.selectAll(".frame").data(frames).join("rect").attr("x",d=>d[0]).attr("y",d=>d[1]).attr("width",d=>d[2]).attr("height",d=>d[3])
  .attr("fill","none").attr("stroke","#1f3048").attr("stroke-width",9);
</script>
</body></html>
